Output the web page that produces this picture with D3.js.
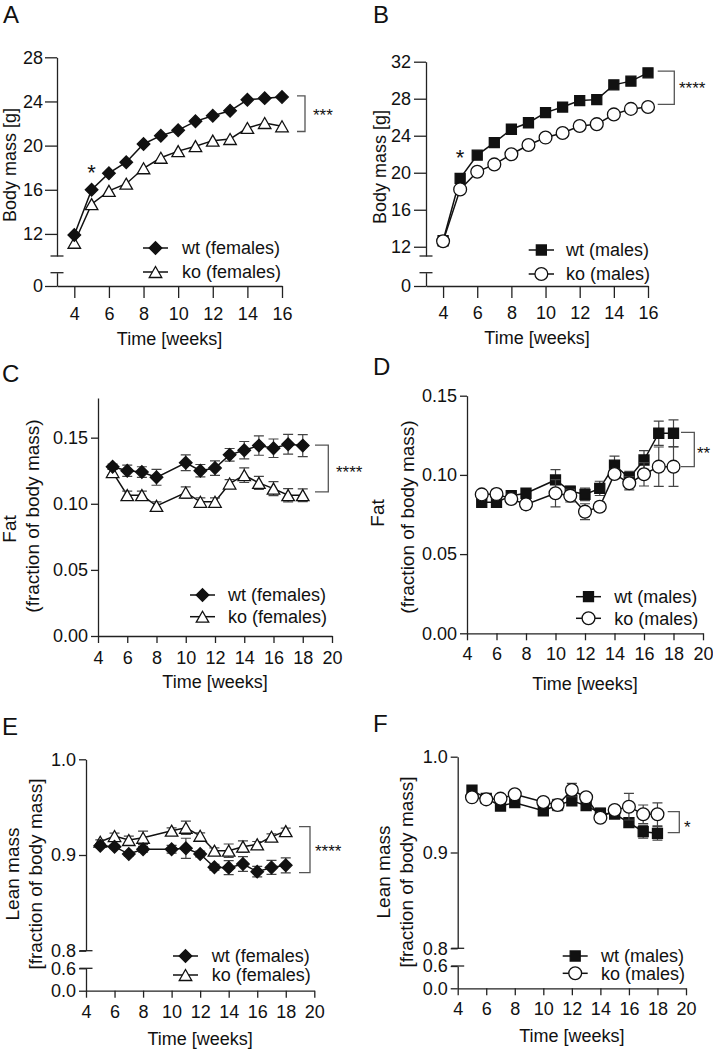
<!DOCTYPE html>
<html><head><meta charset="utf-8">
<script src="https://cdn.jsdelivr.net/npm/d3@7"></script>
<style>
body{margin:0;background:#fff}
svg{display:block;font-family:"Liberation Sans",Arial,sans-serif}
</style>
</head><body><script>
// ---------- data ----------
const weeksMass = [4,5,6,7,8,9,10,11,12,13,14,15,16];
const wtFemaleMass = [11.9,16.0,17.5,18.5,20.15,20.9,21.4,22.2,22.7,23.15,24.15,24.3,24.4];
const koFemaleMass = [11.2,14.7,15.9,16.55,17.95,18.9,19.5,19.95,20.45,20.6,21.6,22.05,21.75];
const wtMaleMass = [12.65,19.4,21.9,23.25,24.7,25.4,26.5,27.1,27.8,27.9,29.5,29.9,30.8];
const koMaleMass = [12.6,18.2,20.1,20.9,22.0,23.0,23.8,24.3,25.05,25.25,26.3,26.9,27.1];

const weeksComp = [5,6,7,8,10,11,12,13,14,15,16,17,18];
const wtFemaleFat = [0.128,0.125,0.124,0.120,0.131,0.125,0.127,0.137,0.1405,0.144,0.142,0.145,0.144];
const wtFemaleFatSem = [0.002,0.0043,0.004,0.006,0.006,0.0047,0.0055,0.0048,0.0066,0.0073,0.007,0.0075,0.0083];
const koFemaleFat = [0.124,0.1065,0.1065,0.0984,0.1085,0.1015,0.1015,0.1153,0.1216,0.1158,0.1115,0.1065,0.1065];
const koFemaleFatSem = [0.002,0.003,0.003,0.003,0.0043,0.003,0.003,0.003,0.0055,0.005,0.0053,0.005,0.0048];
const wtMaleFat = [0.0827,0.0827,0.0869,0.0884,0.0968,0.0898,0.0877,0.0915,0.1062,0.0982,0.1094,0.1263,0.1263];
const wtMaleFatSem = [0.002,0.003,0.002,0.003,0.0065,0.003,0.004,0.0045,0.0057,0.004,0.0059,0.0076,0.0084];
const koMaleFat = [0.0877,0.0879,0.0848,0.0814,0.0884,0.0869,0.0768,0.0799,0.1006,0.0947,0.1004,0.1052,0.1052];
const koMaleFatSem = [0.002,0.003,0.003,0.003,0.0086,0.004,0.005,0.003,0.003,0.0042,0.0074,0.0124,0.0124];
const wtFemaleLean = [0.9097,0.9087,0.901,0.906,0.906,0.907,0.901,0.8872,0.8868,0.8906,0.8826,0.887,0.8892];
const wtFemaleLeanSem = [0.002,0.002,0.002,0.003,0.004,0.0105,0.003,0.003,0.0073,0.0077,0.0055,0.0073,0.0078];
const koFemaleLean = [0.9139,0.9198,0.9157,0.918,0.9254,0.9285,0.9201,0.9045,0.9045,0.9087,0.9111,0.9191,0.925];
const koFemaleLeanSem = [0.002,0.003,0.004,0.007,0.003,0.007,0.003,0.003,0.007,0.006,0.003,0.003,0.003];
const wtMaleLean = [0.9652,0.9566,0.9485,0.952,0.9436,0.9496,0.954,0.9489,0.941,0.9402,0.9311,0.9217,0.92];
const wtMaleLeanSem = [0.002,0.002,0.003,0.003,0.004,0.004,0.003,0.004,0.005,0.003,0.005,0.0066,0.007];
const koMaleLean = [0.9576,0.9555,0.9562,0.9607,0.9527,0.9496,0.9652,0.9576,0.9363,0.9444,0.9478,0.9399,0.9399];
const koMaleLeanSem = [0.002,0.002,0.002,0.002,0.004,0.006,0.007,0.003,0.004,0.004,0.0139,0.0097,0.012];

const xTicksMass = [4,6,8,10,12,14,16];
const xTicksComp = [4,6,8,10,12,14,16,18,20];
const yTicksFemaleMass = [12,16,20,24,28];
const yTicksMaleMass = [12,16,20,24,28,32];
const yTicksMassLow = [0];
const yTicksFat = [0,0.05,0.10,0.15];
const yTicksLean = [0.8,0.9,1.0];
const yTicksLeanLow = [0.0,0.6];

const femaleLabels = ["wt (females)","ko (females)"];
const maleLabels = ["wt (males)","ko (males)"];
const xTitle = "Time [weeks]";

// ---------- drawing ----------
const svg = d3.select("body").append("svg").attr("width",713).attr("height",1050);
const INK = "#111", AX = "#222";

function symPath(shape, cx, cy){
  if(shape==="diamond"){const s=6.3;return `M${cx},${cy-s}L${cx+s},${cy}L${cx},${cy+s}L${cx-s},${cy}Z`;}
  if(shape==="triangle"){const w=12.5,h=11;return `M${cx},${cy-h/2}L${cx+w/2},${cy+h/2}L${cx-w/2},${cy+h/2}Z`;}
  if(shape==="square"){const s=5;return `M${cx-s},${cy-s}H${cx+s}V${cy+s}H${cx-s}Z`;}
  const r=6.4;return `M${cx-r},${cy}A${r},${r} 0 1,0 ${cx+r},${cy}A${r},${r} 0 1,0 ${cx-r},${cy}Z`;
}

function styleAxis(g){
  g.selectAll(".domain").attr("stroke",AX).attr("stroke-width",1.3);
  g.selectAll(".tick line").attr("stroke",AX).attr("stroke-width",1.3);
  g.selectAll(".tick text").attr("fill",INK).style("font-size","18px").style("font-family",'"Liberation Sans",Arial,sans-serif');
}

function drawPanel(c){
  const g = svg.append("g");
  const x = d3.scaleLinear().domain(c.xDomain).range(c.xRange);
  const y = d3.scaleLinear().domain(c.yDomain).range(c.yRange);
  const x0 = c.xRange[0];
  const tk = c.tick || 7, lab = c.labGap || 10;

  // panel letter
  g.append("text").attr("x",c.letterPos[0]).attr("y",c.letterPos[1]).text(c.letter)
    .style("font-size","24px").attr("fill",INK);

  // x axis
  const xg = g.append("g").attr("transform",`translate(0,${c.xAxisY})`)
    .call(d3.axisBottom(x).tickValues(c.xTicks).tickSize(tk).tickSizeOuter(0).tickFormat(d3.format("d")));
  styleAxis(xg);
  xg.selectAll(".tick text").attr("y",c.xLabelBase-c.xAxisY).attr("dy",0);
  g.append("text").attr("x",(c.xRange[0]+c.xRange[1])/2).attr("y",c.xTitleY)
    .attr("text-anchor","middle").style("font-size","18px").attr("fill",INK).text(xTitle);

  // y axis (upper)
  const yg = g.append("g").attr("transform",`translate(${x0},0)`)
    .call(d3.axisLeft(y).tickValues(c.yTicks).tickSize(tk).tickSizeOuter(0).tickFormat(c.yFmt));
  styleAxis(yg);
  yg.selectAll(".tick text").attr("x",-lab);
  if(c.yLow){
    const yl = d3.scaleLinear().domain(c.yLow.domain).range(c.yLow.range);
    const ylg = g.append("g").attr("transform",`translate(${x0},0)`)
      .call(d3.axisLeft(yl).tickValues(c.yLow.ticks).tickSize(tk).tickSizeOuter(0).tickFormat(c.yLow.fmt));
    styleAxis(ylg);
    ylg.selectAll(".tick text").attr("x",-lab);
    [c.yRange[0], c.yLow.range[1]].forEach(py=>{
      g.append("line").attr("x1",x0-6.5).attr("x2",x0+6.5).attr("y1",py).attr("y2",py)
        .attr("stroke",AX).attr("stroke-width",1.3);
    });
  }
  // y titles
  c.yTitles.forEach(t=>{
    g.append("text").attr("transform",`translate(${t.x},${t.y}) rotate(-90)`)
      .attr("text-anchor","middle").attr("dy","0.35em").style("font-size",t.size||"18px")
      .attr("fill",INK).text(t.text);
  });

  // series
  const line = d3.line().x(d=>x(d.w)).y(d=>y(d.v));
  c.series.forEach(s=>{
    const pts = s.weeks.map((w,i)=>({w, v:s.values[i], e:s.err?s.err[i]:0}));
    const sg = g.append("g");
    sg.append("path").attr("d",line(pts)).attr("fill","none").attr("stroke",INK).attr("stroke-width",1.5);
    if(s.err){
      pts.forEach(p=>{
        const px=x(p.w), y1=y(p.v-p.e), y2=y(p.v+p.e);
        sg.append("path").attr("d",`M${px},${y1}V${y2}M${px-5},${y1}H${px+5}M${px-5},${y2}H${px+5}`)
          .attr("stroke","#444").attr("stroke-width",1.2).attr("fill","none");
      });
    }
    pts.forEach(p=>{
      sg.append("path").attr("d",symPath(s.shape,x(p.w),y(p.v)))
        .attr("fill",s.filled?INK:"#fff").attr("stroke",INK).attr("stroke-width",1.3);
    });
  });

  // significance bracket
  const b = c.bracket;
  g.append("path").attr("d",`M${b.x1},${y(b.top)}H${b.x2}V${y(b.bottom)}H${b.x1}`)
    .attr("fill","none").attr("stroke","#555").attr("stroke-width",1.3);
  g.append("text").attr("x",b.tx).attr("y",b.ty).style("font-size","17px").attr("fill",INK).text(b.label);
  if(c.star){
    g.append("text").attr("x",x(c.star.w)).attr("y",c.star.y).attr("text-anchor","middle")
      .style("font-size","22px").attr("fill",INK).text("*");
  }

  // legend
  const L = c.legend;
  c.series.slice().sort((a,b)=>a.legendIdx-b.legendIdx).forEach((s,i)=>{
    const ly=L.y[i];
    g.append("line").attr("x1",L.lineX[0]).attr("x2",L.lineX[1]).attr("y1",ly).attr("y2",ly)
      .attr("stroke",INK).attr("stroke-width",1.5);
    g.append("path").attr("d",symPath(s.shape,(L.lineX[0]+L.lineX[1])/2,ly))
      .attr("fill",s.filled?INK:"#fff").attr("stroke",INK).attr("stroke-width",1.3);
    g.append("text").attr("x",L.textX).attr("y",ly).attr("dy","0.35em").style("font-size","18px")
      .attr("fill",INK).text(L.labels[i]);
  });
}

const fmtD = d3.format("d"), fmt2 = d3.format(".2f"), fmt1 = d3.format(".1f");

drawPanel({letter:"A",letterPos:[3,23],xDomain:[3,16],xRange:[57,282],xTicks:xTicksMass,xAxisY:286,xLabelBase:320,xTitleY:345,
  tick:12,labGap:14,
  yDomain:[10,28],yRange:[256,57.3],yTicks:yTicksFemaleMass,yFmt:fmtD,
  yLow:{domain:[0,1.2],range:[286,272.7],ticks:yTicksMassLow,fmt:fmtD},
  yTitles:[{text:"Body mass [g]",x:10,y:165}],
  series:[{weeks:weeksMass,values:koFemaleMass,shape:"triangle",filled:false,legendIdx:1},
          {weeks:weeksMass,values:wtFemaleMass,shape:"diamond",filled:true,legendIdx:0}],
  bracket:{x1:297,x2:305,top:24.5,bottom:21.28,tx:313,ty:121,label:"***"},
  star:{w:5,y:180},
  legend:{lineX:[143,168],y:[248,272],textX:182,labels:femaleLabels}});

drawPanel({letter:"B",letterPos:[373,23],xDomain:[3,16],xRange:[426,648],xTicks:xTicksMass,xAxisY:286,xLabelBase:318.5,xTitleY:344,
  tick:12,labGap:15,
  yDomain:[11,32],yRange:[256,61.7],yTicks:yTicksMaleMass,yFmt:fmtD,
  yLow:{domain:[0,1.2],range:[286,272.7],ticks:yTicksMassLow,fmt:fmtD},
  yTitles:[{text:"Body mass [g]",x:380,y:167}],
  series:[{weeks:weeksMass,values:wtMaleMass,shape:"square",filled:true,legendIdx:0},
          {weeks:weeksMass,values:koMaleMass,shape:"circle",filled:false,legendIdx:1}],
  bracket:{x1:657.7,x2:674.3,top:30.99,bottom:27.38,tx:679,ty:94,label:"****"},
  star:{w:5,y:165},
  legend:{lineX:[528.7,554],y:[250,274],textX:566,labels:maleLabels}});

drawPanel({letter:"C",letterPos:[2,382],xDomain:[4,20],xRange:[98,332],xTicks:xTicksComp,xAxisY:636,xLabelBase:663.5,xTitleY:688,
  yDomain:[0,0.18],yRange:[636,398],yTicks:yTicksFat,yFmt:fmt2,
  yTitles:[{text:"Fat",x:9,y:529,size:"19px"},{text:"(fraction of body mass)",x:32,y:516,size:"19px"}],
  series:[{weeks:weeksComp,values:koFemaleFat,err:koFemaleFatSem,shape:"triangle",filled:false,legendIdx:1},
          {weeks:weeksComp,values:wtFemaleFat,err:wtFemaleFatSem,shape:"diamond",filled:true,legendIdx:0}],
  bracket:{x1:315,x2:328.3,top:0.1443,bottom:0.109,tx:336,ty:478,label:"****"},
  legend:{lineX:[190,215],y:[595,616.7],textX:228,labels:femaleLabels}});

drawPanel({letter:"D",letterPos:[373,375],xDomain:[4,20],xRange:[467,703],xTicks:xTicksComp,xAxisY:633.3,xLabelBase:660,xTitleY:690,
  yDomain:[0,0.15],yRange:[633.3,395.7],yTicks:yTicksFat,yFmt:fmt2,
  yTitles:[{text:"Fat",x:377,y:513,size:"19px"},{text:"(fraction of body mass)",x:407,y:517,size:"19px"}],
  series:[{weeks:weeksComp,values:wtMaleFat,err:wtMaleFatSem,shape:"square",filled:true,legendIdx:0},
          {weeks:weeksComp,values:koMaleFat,err:koMaleFatSem,shape:"circle",filled:false,legendIdx:1}],
  bracket:{x1:681,x2:694.3,top:0.1269,bottom:0.1052,tx:697,ty:459,label:"**"},
  legend:{lineX:[576,601],y:[596.7,618.3],textX:614.3,labels:maleLabels}});

drawPanel({letter:"E",letterPos:[2,735],xDomain:[4,20],xRange:[86,314.3],xTicks:xTicksComp,xAxisY:990.7,xLabelBase:1018.3,xTitleY:1045,
  yDomain:[0.8,1.0],yRange:[950.7,759.3],yTicks:yTicksLean,yFmt:fmt1,
  yLow:{domain:[0,0.6],range:[990.7,968.3],ticks:yTicksLeanLow,fmt:fmt1},
  yTitles:[{text:"Lean mass",x:12,y:874,size:"19px"},{text:"[fraction of body mass]",x:35,y:874,size:"19px"}],
  series:[{weeks:weeksComp,values:koFemaleLean,err:koFemaleLeanSem,shape:"triangle",filled:false,legendIdx:1},
          {weeks:weeksComp,values:wtFemaleLean,err:wtFemaleLeanSem,shape:"diamond",filled:true,legendIdx:0}],
  bracket:{x1:299,x2:310,top:0.9296,bottom:0.8815,tx:315,ty:857,label:"****"},
  legend:{lineX:[173,198],y:[956,975],textX:211.7,labels:femaleLabels}});

drawPanel({letter:"F",letterPos:[373,731.7],xDomain:[4,20],xRange:[457.7,686],xTicks:xTicksComp,xAxisY:988.3,xLabelBase:1015,xTitleY:1042,
  yDomain:[0.8,1.0],yRange:[948.3,756.7],yTicks:yTicksLean,yFmt:fmt1,
  yLow:{domain:[0,0.6],range:[988.3,966],ticks:yTicksLeanLow,fmt:fmt1},
  yTitles:[{text:"Lean mass",x:383,y:872,size:"19px"},{text:"[fraction of body mass]",x:406,y:872,size:"19px"}],
  series:[{weeks:weeksComp,values:wtMaleLean,err:wtMaleLeanSem,shape:"square",filled:true,legendIdx:0},
          {weeks:weeksComp,values:koMaleLean,err:koMaleLeanSem,shape:"circle",filled:false,legendIdx:1}],
  bracket:{x1:667.7,x2:679.3,top:0.9426,bottom:0.9207,tx:684,ty:833,label:"*"},
  legend:{lineX:[562.7,587.7],y:[956,973.3],textX:601,labels:maleLabels}});
</script></body></html>
